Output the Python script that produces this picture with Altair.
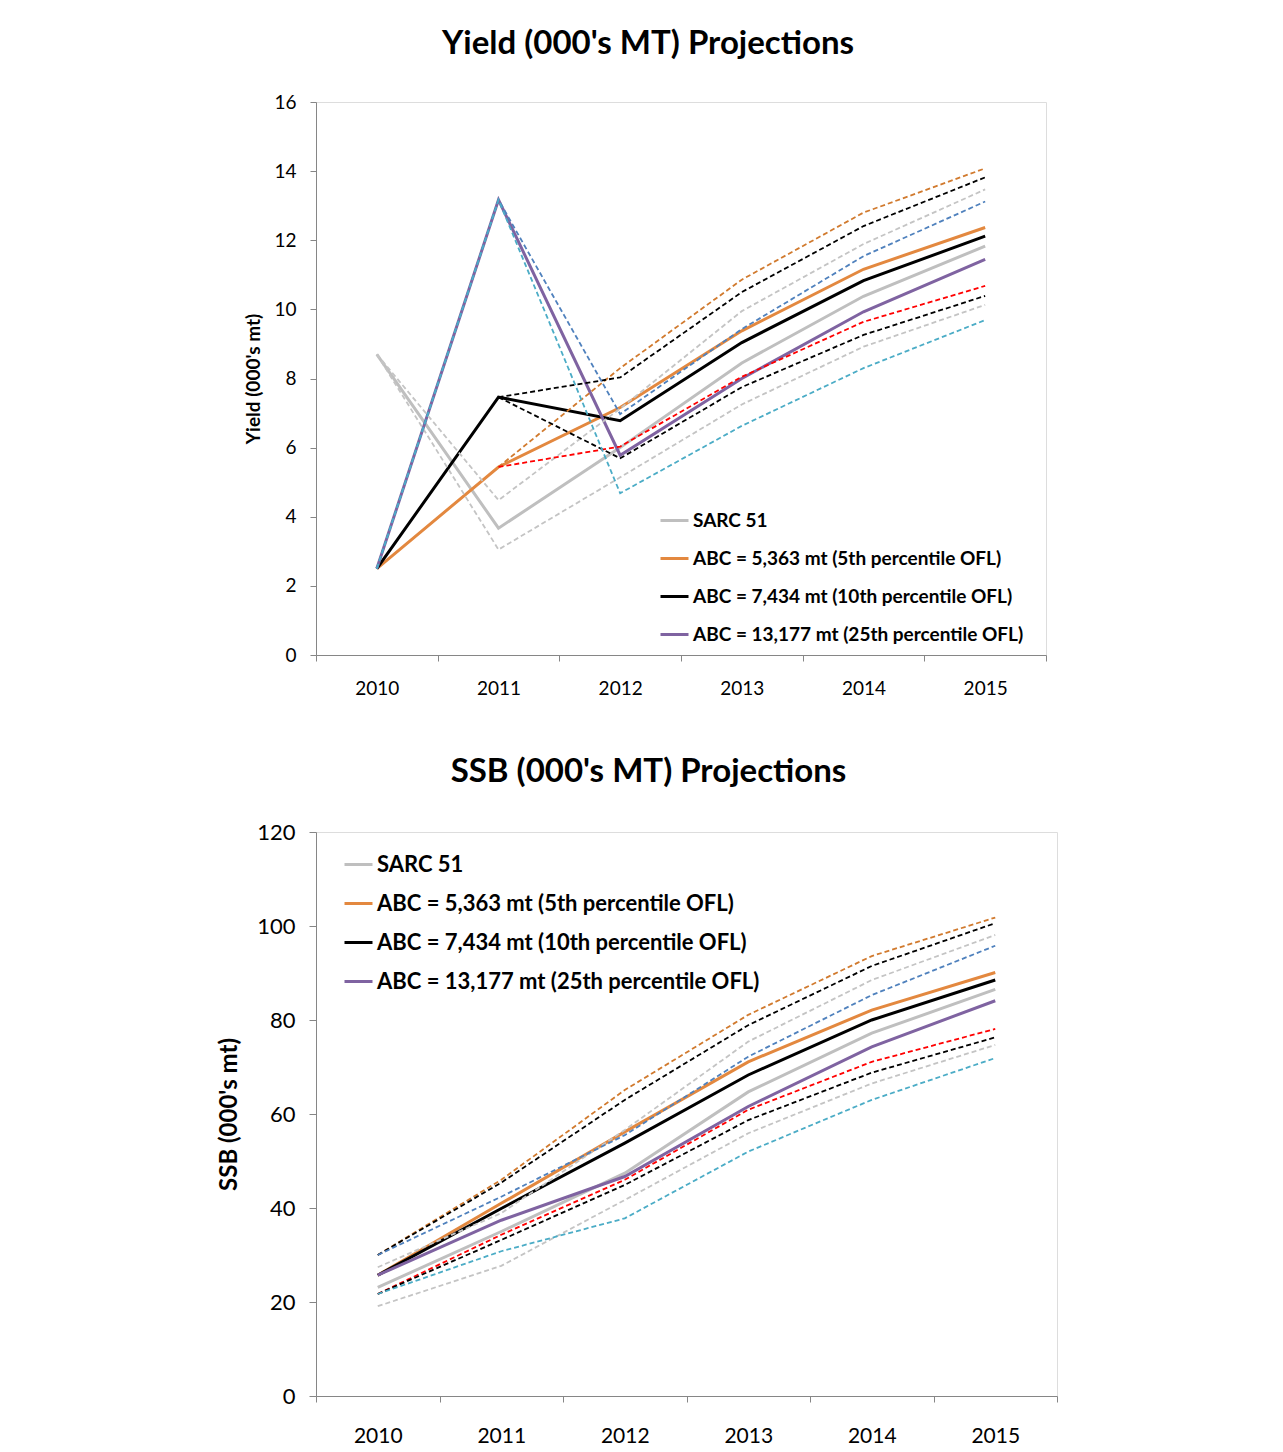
import altair as alt
import pandas as pd

years = [2010, 2011, 2012, 2013, 2014, 2015]
series = [
    "SARC 51",
    "ABC = 5,363 mt (5th percentile OFL)",
    "ABC = 7,434 mt (10th percentile OFL)",
    "ABC = 13,177 mt (25th percentile OFL)",
]
series_colors = ["#BFBFBF", "#E3883F", "#000000", "#7F63A1"]

bands = ["SARC upper", "SARC lower", "ABC5 upper", "ABC5 lower",
         "ABC7 upper", "ABC7 lower", "ABC13 upper", "ABC13 lower"]
band_colors = ["#C4C4C4", "#C4C4C4", "#D17A2E", "#FF0000",
               "#000000", "#000000", "#4F81BD", "#4BACC6"]

# Yield (000's mt); None = no value plotted for that year
yld_sarc = [8.7, 3.67, 6.0, 8.45, 10.38, 11.83]
yld_sarc_hi = [8.7, 4.48, 7.13, 9.95, 11.89, 13.47]
yld_sarc_lo = [8.7, 3.05, 5.14, 7.25, 8.92, 10.13]
yld_abc5 = [2.5, 5.44, 7.16, 9.38, 11.16, 12.37]
yld_abc5_hi = [None, 5.44, 8.3, 10.86, 12.8, 14.08]
yld_abc5_lo = [None, 5.44, 6.03, 8.05, 9.64, 10.68]
yld_abc7 = [2.5, 7.46, 6.78, 9.04, 10.83, 12.12]
yld_abc7_hi = [None, 7.46, 8.03, 10.5, 12.41, 13.82]
yld_abc7_lo = [None, 7.46, 5.69, 7.75, 9.26, 10.39]
yld_abc13 = [2.5, 13.17, 5.78, 8.0, 9.93, 11.45]
yld_abc13_hi = [2.5, 13.17, 6.97, 9.43, 11.54, 13.12]
yld_abc13_lo = [2.5, 13.17, 4.68, 6.63, 8.3, 9.69]

# SSB (000's mt)
ssb_sarc = [23.1, 35.0, 47.4, 64.7, 77.2, 86.5]
ssb_sarc_hi = [27.4, 38.9, 56.6, 75.4, 88.5, 98.1]
ssb_sarc_lo = [19.1, 27.7, 41.7, 55.9, 66.5, 74.7]
ssb_abc5 = [25.7, 41.0, 56.2, 71.1, 82.1, 90.1]
ssb_abc5_hi = [30.0, 46.0, 65.1, 81.1, 93.6, 101.8]
ssb_abc5_lo = [21.7, 34.3, 46.0, 60.9, 71.1, 78.1]
ssb_abc7 = [25.7, 39.9, 53.8, 68.3, 80.0, 88.5]
ssb_abc7_hi = [30.0, 45.4, 63.0, 78.9, 91.5, 100.6]
ssb_abc7_lo = [21.7, 33.2, 44.9, 58.7, 68.8, 76.3]
ssb_abc13 = [25.7, 37.4, 46.7, 61.6, 74.3, 84.1]
ssb_abc13_hi = [30.0, 42.4, 55.5, 72.2, 85.3, 95.8]
ssb_abc13_lo = [21.7, 30.8, 37.8, 52.0, 63.0, 71.9]


def long_df(names, lists, key):
    rows = []
    for name, vals in zip(names, lists):
        for yr, v in zip(years, vals):
            if v is not None:
                rows.append({"year": yr, "value": v, key: name})
    return pd.DataFrame(rows)


FONT = "Lato"
tick_vals = [y - 0.5 for y in years] + [years[-1] + 0.5]
xscale = alt.Scale(domain=[tick_vals[0], tick_vals[-1]], nice=False, zero=False)


def panel(title, ytitle, meds, band_lists, ymax, ystep, w, h, sz, leg):
    med_df = long_df(series, meds, "series")
    band_df = long_df(bands, band_lists, "band")
    yscale = alt.Scale(domain=[0, ymax], nice=False)
    yaxis = alt.Axis(values=list(range(0, ymax + 1, ystep)), grid=False,
                     title=ytitle, titleFont=FONT, titleFontSize=sz["ytitle"],
                     titleFontWeight="bold", titleColor="black",
                     titlePadding=sz["tpad"],
                     labelFont=FONT, labelFontSize=sz["ylab"], labelColor="black",
                     labelPadding=sz["lpad"], tickSize=sz["tick"],
                     domainColor="#868686", tickColor="#868686")

    dashed = alt.Chart(band_df).mark_line(strokeWidth=1.8, strokeDash=[5, 3]).encode(
        x=alt.X("year:Q", scale=xscale, title=None,
                axis=alt.Axis(values=tick_vals, labels=False, tickSize=6, grid=False,
                              orient="bottom", domainColor="#868686", tickColor="#868686")),
        y=alt.Y("value:Q", scale=yscale, axis=yaxis),
        color=alt.Color("band:N", scale=alt.Scale(domain=bands, range=band_colors), legend=None),
    )

    solid = alt.Chart(med_df).mark_line(strokeWidth=3).encode(
        x=alt.X("year:Q", scale=xscale, title=None,
                axis=alt.Axis(values=years, format="d", tickSize=0, domain=False, grid=False,
                              orient="bottom", labelFont=FONT, labelFontSize=sz["xlab"],
                              labelColor="black", labelPadding=sz["xpad"])),
        y=alt.Y("value:Q", scale=yscale, axis=yaxis),
        color=alt.Color("series:N", scale=alt.Scale(domain=series, range=series_colors),
                        sort=series,
                        legend=alt.Legend(title=None, orient="none", legendX=leg[0], legendY=leg[1],
                                          symbolType="stroke", symbolStrokeWidth=3,
                                          symbolSize=784, labelFont=FONT,
                                          labelFontSize=sz["leg"], labelFontWeight="bold",
                                          labelColor="black", labelLimit=0,
                                          rowPadding=leg[2], labelOffset=3)),
    )

    # bounds drawn over the medians, as in the spreadsheet original
    return alt.layer(solid, dashed).resolve_scale(color="independent").resolve_axis(
        x="independent"
    ).properties(
        width=w, height=h,
        title=alt.TitleParams(title, font=FONT, fontSize=33, fontWeight="bold", color="black",
                              anchor="middle", frame="group", dx=sz["dx"], offset=32),
    )


top = panel(
    "Yield (000's MT) Projections", "Yield (000's mt)",
    [yld_sarc, yld_abc5, yld_abc7, yld_abc13],
    [yld_sarc_hi, yld_sarc_lo, yld_abc5_hi, yld_abc5_lo,
     yld_abc7_hi, yld_abc7_lo, yld_abc13_hi, yld_abc13_lo],
    16, 2, 730, 553,
    {"ytitle": 19, "ylab": 19, "xlab": 19, "tpad": 10, "lpad": 14, "tick": 6,
     "xpad": 24, "leg": 19, "dx": -33},
    (343, 403, 12),
)

bottom = panel(
    "SSB (000's MT) Projections", "SSB (000's mt)",
    [ssb_sarc, ssb_abc5, ssb_abc7, ssb_abc13],
    [ssb_sarc_hi, ssb_sarc_lo, ssb_abc5_hi, ssb_abc5_lo,
     ssb_abc7_hi, ssb_abc7_lo, ssb_abc13_hi, ssb_abc13_lo],
    120, 20, 741, 564,
    {"ytitle": 24, "ylab": 22, "xlab": 21, "tpad": 15, "lpad": 14, "tick": 7,
     "xpad": 29, "leg": 22, "dx": -38},
    (27, 17, 12),
)

chart = alt.vconcat(top, bottom, spacing=177, bounds="flush").properties(
    padding={"left": 209, "top": 19, "right": 20, "bottom": 10}
).configure_view(
    stroke="#B3B3B3", strokeWidth=1
).configure(background="white")

chart.save("out.html", embed_options={"renderer": "svg", "actions": False})
